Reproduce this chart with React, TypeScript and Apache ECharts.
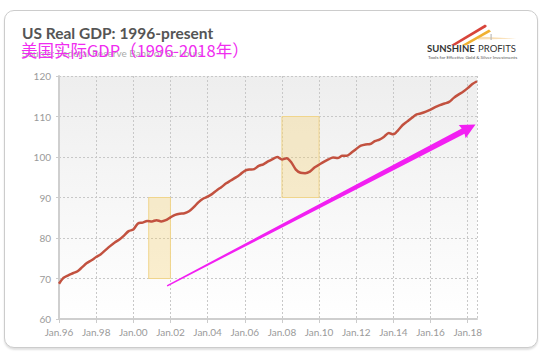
import React, { useEffect, useRef } from "react";
import * as echarts from "echarts";

const startYear = 1996;
const gdpValues: number[] = [
  68.7, 70.2, 70.8, 71.3,
  71.8, 72.8, 73.8, 74.5,
  75.3, 76.0, 77.0, 78.0,
  78.9, 79.6, 80.6, 81.7,
  82.1, 83.6, 83.8, 84.2,
  84.1, 84.4, 84.1, 84.4,
  85.1, 85.7, 86.0, 86.1,
  86.6, 87.6, 88.8, 89.7,
  90.2, 90.9, 91.8, 92.6,
  93.5, 94.2, 94.9, 95.7,
  96.6, 96.9, 97.0, 97.8,
  98.2, 98.9, 99.5, 100.0,
  99.4, 99.7, 98.7, 96.9,
  96.1, 96.0, 96.4, 97.4,
  98.1, 98.8, 99.4, 99.9,
  99.75, 100.3, 100.3, 101.1,
  102.0, 102.8, 103.1, 103.2,
  103.9, 104.3, 105.0, 105.9,
  105.6, 106.6, 107.9, 108.8,
  109.7, 110.5, 110.8, 111.2,
  111.7, 112.3, 112.8, 113.2,
  113.6, 114.6, 115.4, 116.1,
  117.0, 118.0, 118.7,
];
const recessions: [number, number, number, number][] = [
  [2000.83, 2002.0, 70, 90],
  [2008.0, 2010.0, 90, 110],
];
const arrowStart = [2001.82, 68.2];
const arrowEnd = [2018.42, 108.0];
const xMin = 1996;
const xMax = 2018.5;
const yMin = 60;
const yMax = 120;

export default function App() {
  const ref = useRef<HTMLDivElement>(null);
  useEffect(() => {
    if (!ref.current) return;
    const chart = echarts.init(ref.current, null, { renderer: "svg" });
    const data = gdpValues.map((v, i) => [startYear + i * 0.25, v]);
    const labelColor = "#9a9a9a";
    chart.setOption({
      animation: false,
      grid: {
        left: 59,
        right: 73,
        top: 76,
        bottom: 38,
        show: true,
        borderWidth: 0,
        backgroundColor: new echarts.graphic.LinearGradient(0, 0, 0, 1, [
          { offset: 0, color: "#eeeeee" },
          { offset: 1, color: "#ffffff" },
        ]),
      },
      xAxis: {
        type: "value",
        min: xMin,
        max: xMax,
        interval: 2,
        axisLine: { show: true, lineStyle: { color: "#cfcfcf", width: 2 } },
        axisTick: { show: true, length: 4, lineStyle: { color: "#cccccc", type: "dashed" } },
        splitLine: { show: true, lineStyle: { color: "#c8c8c8", type: [2, 2], width: 1 } },
        axisLabel: {
          color: labelColor,
          fontSize: 10,
          fontFamily: "Lato",
          margin: 8,
          showMaxLabel: false,
          formatter: (v: number) => (v % 2 === 0 ? "Jan." + String(v).slice(2) : ""),
        },
      },
      yAxis: {
        type: "value",
        min: yMin,
        max: yMax,
        interval: 10,
        axisLine: { show: true, lineStyle: { color: "#cfcfcf", width: 2 } },
        axisTick: { show: true, length: 3, lineStyle: { color: "#cccccc" } },
        splitLine: { show: true, lineStyle: { color: "#c8c8c8", type: [2, 2], width: 1 } },
        axisLabel: { color: labelColor, fontSize: 10, fontFamily: "Lato", margin: 8 },
      },
      series: [
        {
          type: "line",
          data,
          smooth: 0.3,
          symbol: "none",
          lineStyle: { color: "#c2513f", width: 2.5 },
          z: 3,
          markArea: {
            silent: true,
            itemStyle: {
              color: "rgba(245, 205, 100, 0.3)",
              borderColor: "#f0d58c",
              borderWidth: 1,
            },
            data: recessions.map((r) => [
              { xAxis: r[0], yAxis: r[2] },
              { xAxis: r[1], yAxis: r[3] },
            ]),
          },
        },
      ],
    });

    const S = chart.convertToPixel({ gridIndex: 0 }, arrowStart) as number[];
    const T = chart.convertToPixel({ gridIndex: 0 }, arrowEnd) as number[];
    const dx = T[0] - S[0];
    const dy = T[1] - S[1];
    const len = Math.sqrt(dx * dx + dy * dy);
    const ux = dx / len;
    const uy = dy / len;
    const nx = -uy;
    const ny = ux;
    const headLen = 15;
    const headHalf = 7.5;
    const w0 = 0.7;
    const w1 = 3;
    const B = [T[0] - ux * headLen, T[1] - uy * headLen];
    const Bo = [B[0] + ux * 1, B[1] + uy * 1];
    const arrowPts = [
      [S[0] + nx * w0, S[1] + ny * w0],
      [Bo[0] + nx * w1, Bo[1] + ny * w1],
      [B[0] + nx * headHalf, B[1] + ny * headHalf],
      [T[0], T[1]],
      [B[0] - nx * headHalf, B[1] - ny * headHalf],
      [Bo[0] - nx * w1, Bo[1] - ny * w1],
      [S[0] - nx * w0, S[1] - ny * w0],
    ];

    chart.setOption({
      graphic: [
        {
          type: "polygon",
          shape: { points: arrowPts },
          style: { fill: "#f21ff2" },
          z: 10,
        },
        {
          type: "text",
          x: 22,
          y: 33,
          style: {
            text: "US Real GDP: 1996-present",
            font: "bold 15.5px Lato",
            fill: "#555555",
            textVerticalAlign: "middle",
          },
          z: 10,
        },
        {
          type: "text",
          x: 22,
          y: 53,
          style: {
            text: "Source: Federal Reserve Bank of St. Louis",
            font: "10px Lato",
            fill: "#aaaaaa",
            textVerticalAlign: "middle",
          },
          z: 10,
        },
        {
          type: "text",
          x: 21,
          y: 49.5,
          style: {
            text: "美国实际GDP（1996-2018年）",
            font: "16.5px 'Noto Sans CJK SC'",
            fill: "#f02cf0",
            textVerticalAlign: "middle",
          },
          z: 11,
        },
        {
          type: "polygon",
          shape: { points: [[451, 45], [485, 24.5], [487, 26], [485.5, 27.5], [455, 45.5]] },
          style: { fill: "#d8443a" },
          z: 10,
        },
        {
          type: "polygon",
          shape: { points: [[462, 45], [489, 29.5], [491, 31.5], [466, 45.5]] },
          style: { fill: "#f0b030" },
          z: 10,
        },
        {
          type: "polygon",
          shape: { points: [[478, 36.5], [516, 38.5], [478, 39.5]] },
          style: { fill: "rgba(240,175,70,0.4)" },
          z: 10,
        },
        {
          type: "rect",
          shape: { x: 490.5, y: 34, width: 1.2, height: 6 },
          style: { fill: "#bbbbbb" },
          z: 10,
        },
        {
          type: "text",
          x: 427,
          y: 48.5,
          style: {
            text: "{b|SUNSHINE} {n|PROFITS}",
            rich: {
              b: { font: "bold 9.5px Lato", fill: "#333333" },
              n: { font: "9.5px Lato", fill: "#333333" },
            },
            textVerticalAlign: "middle",
          },
          z: 10,
        },
        {
          type: "text",
          x: 428,
          y: 56.5,
          style: {
            text: "Tools for Effective Gold & Silver Investments",
            font: "4.6px Lato",
            fill: "#555555",
            textVerticalAlign: "middle",
          },
          z: 10,
        },
      ],
    });
    return () => chart.dispose();
  }, []);

  return (
    <div style={{ position: "fixed", left: 0, top: 0, width: 550, height: 357, background: "#ffffff" }}>
      <div
        style={{
          position: "absolute",
          left: 4,
          top: 10,
          width: 532,
          height: 336,
          border: "1.5px solid #cccccc",
          borderRadius: 10,
          boxShadow: "0 2px 2px rgba(0,0,0,0.12)",
          background: "#ffffff",
        }}
      />
      <div ref={ref} style={{ position: "absolute", left: 0, top: 0, width: 550, height: 357 }} />
    </div>
  );
}
